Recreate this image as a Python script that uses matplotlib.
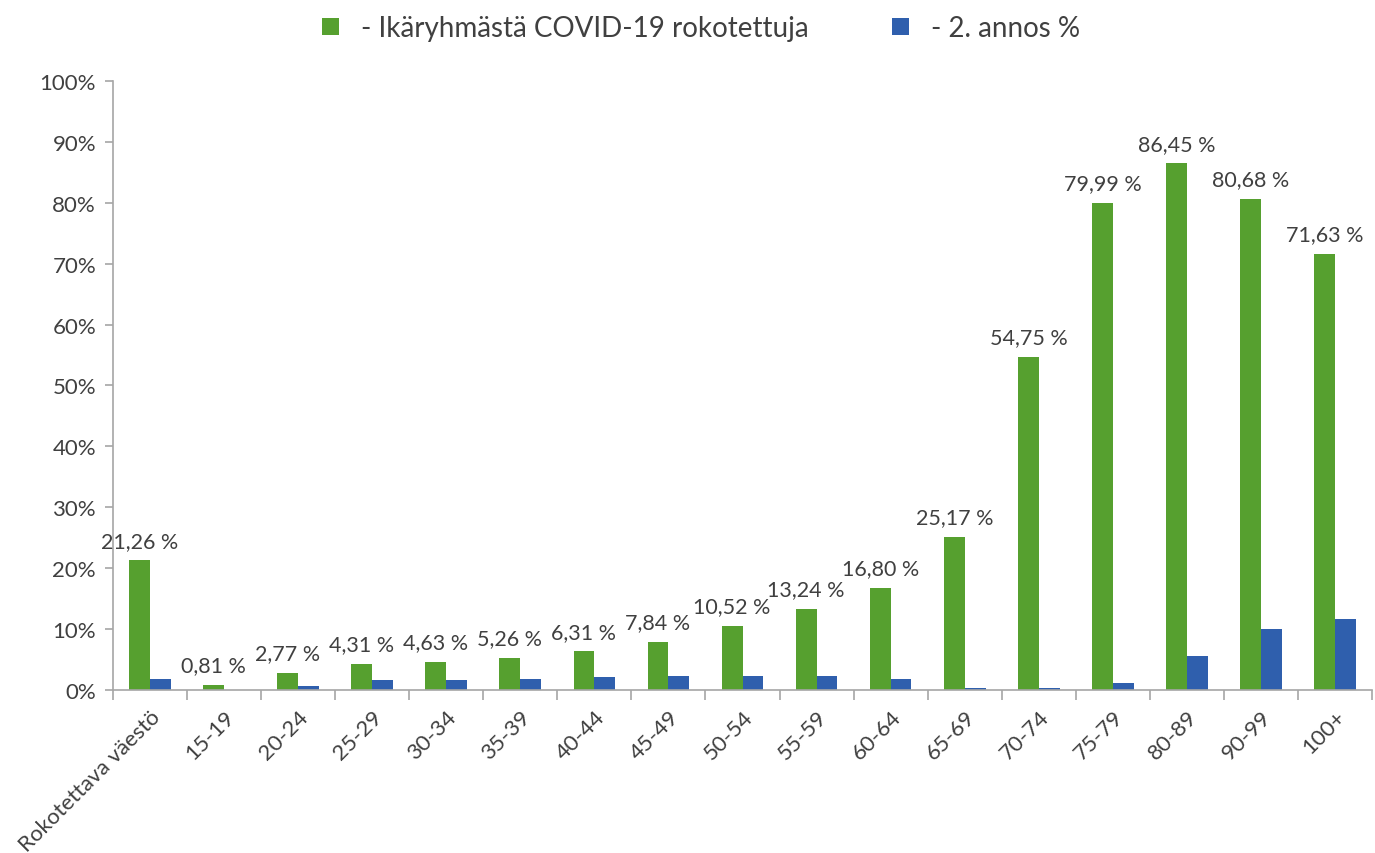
import matplotlib.pyplot as plt
import numpy as np
from matplotlib.ticker import PercentFormatter, FixedLocator

plt.rcParams['font.family'] = ['Lato', 'DejaVu Sans']

categories = ["Rokotettava väestö", "15-19", "20-24", "25-29", "30-34", "35-39", "40-44",
              "45-49", "50-54", "55-59", "60-64", "65-69", "70-74", "75-79", "80-89",
              "90-99", "100+"]
vaccinated = [21.26, 0.81, 2.77, 4.31, 4.63, 5.26, 6.31, 7.84, 10.52, 13.24, 16.80,
              25.17, 54.75, 79.99, 86.45, 80.68, 71.63]
second_dose = [1.8, 0.0, 0.6, 1.6, 1.6, 1.8, 2.1, 2.2, 2.2, 2.2, 1.8, 0.3, 0.3, 1.1,
               5.5, 10.0, 11.7]
legend_labels = ["- Ikäryhmästä COVID-19 rokotettuja", "- 2. annos %"]

green = '#56A02F'
blue = '#2F5FAD'
txt = '#404040'
axis_col = '#A6A6A6'

fig = plt.figure(figsize=(13.75, 8.54), dpi=100)
ax = fig.add_axes([0.082, 0.191, 0.916, 0.713])

x = np.arange(len(categories))
w = 0.28
b1 = ax.bar(x - w / 2, vaccinated, w, color=green, label=legend_labels[0])
b2 = ax.bar(x + w / 2, second_dose, w, color=blue, label=legend_labels[1])

for xi, v in zip(x, vaccinated):
    ax.annotate("{:.2f} %".format(v).replace('.', ','), (xi - w / 2, v),
                xytext=(0, 7), textcoords='offset points', ha='center', va='bottom',
                fontsize=15.5, color=txt)

ax.set_xlim(-0.5, len(categories) - 0.5)
ax.set_ylim(0, 100)
ax.yaxis.set_major_locator(FixedLocator(np.arange(0, 101, 10)))
ax.yaxis.set_major_formatter(PercentFormatter(decimals=0))

ax.set_xticks(x)
ax.set_xticklabels(categories, rotation=45, ha='right', rotation_mode='anchor',
                   fontsize=16, color=txt)
ax.tick_params(axis='x', which='major', length=0, pad=12)
ax.set_xticks(np.arange(-0.5, len(categories)), minor=True)
ax.tick_params(axis='x', which='minor', length=7, color=axis_col, width=1.2)
ax.tick_params(axis='y', labelsize=16, labelcolor=txt, length=6, color=axis_col, width=1.2,
               pad=6)

for s in ['top', 'right']:
    ax.spines[s].set_visible(False)
for s in ['left', 'bottom']:
    ax.spines[s].set_color(axis_col)
    ax.spines[s].set_linewidth(1.2)

fig.legend(handles=[b1, b2], loc='upper center', bbox_to_anchor=(0.51, 1.01), ncol=2,
           frameon=False, fontsize=20, handlelength=0.6, handleheight=0.6,
           columnspacing=3, labelcolor=txt)

plt.savefig("out.png", dpi=100)
